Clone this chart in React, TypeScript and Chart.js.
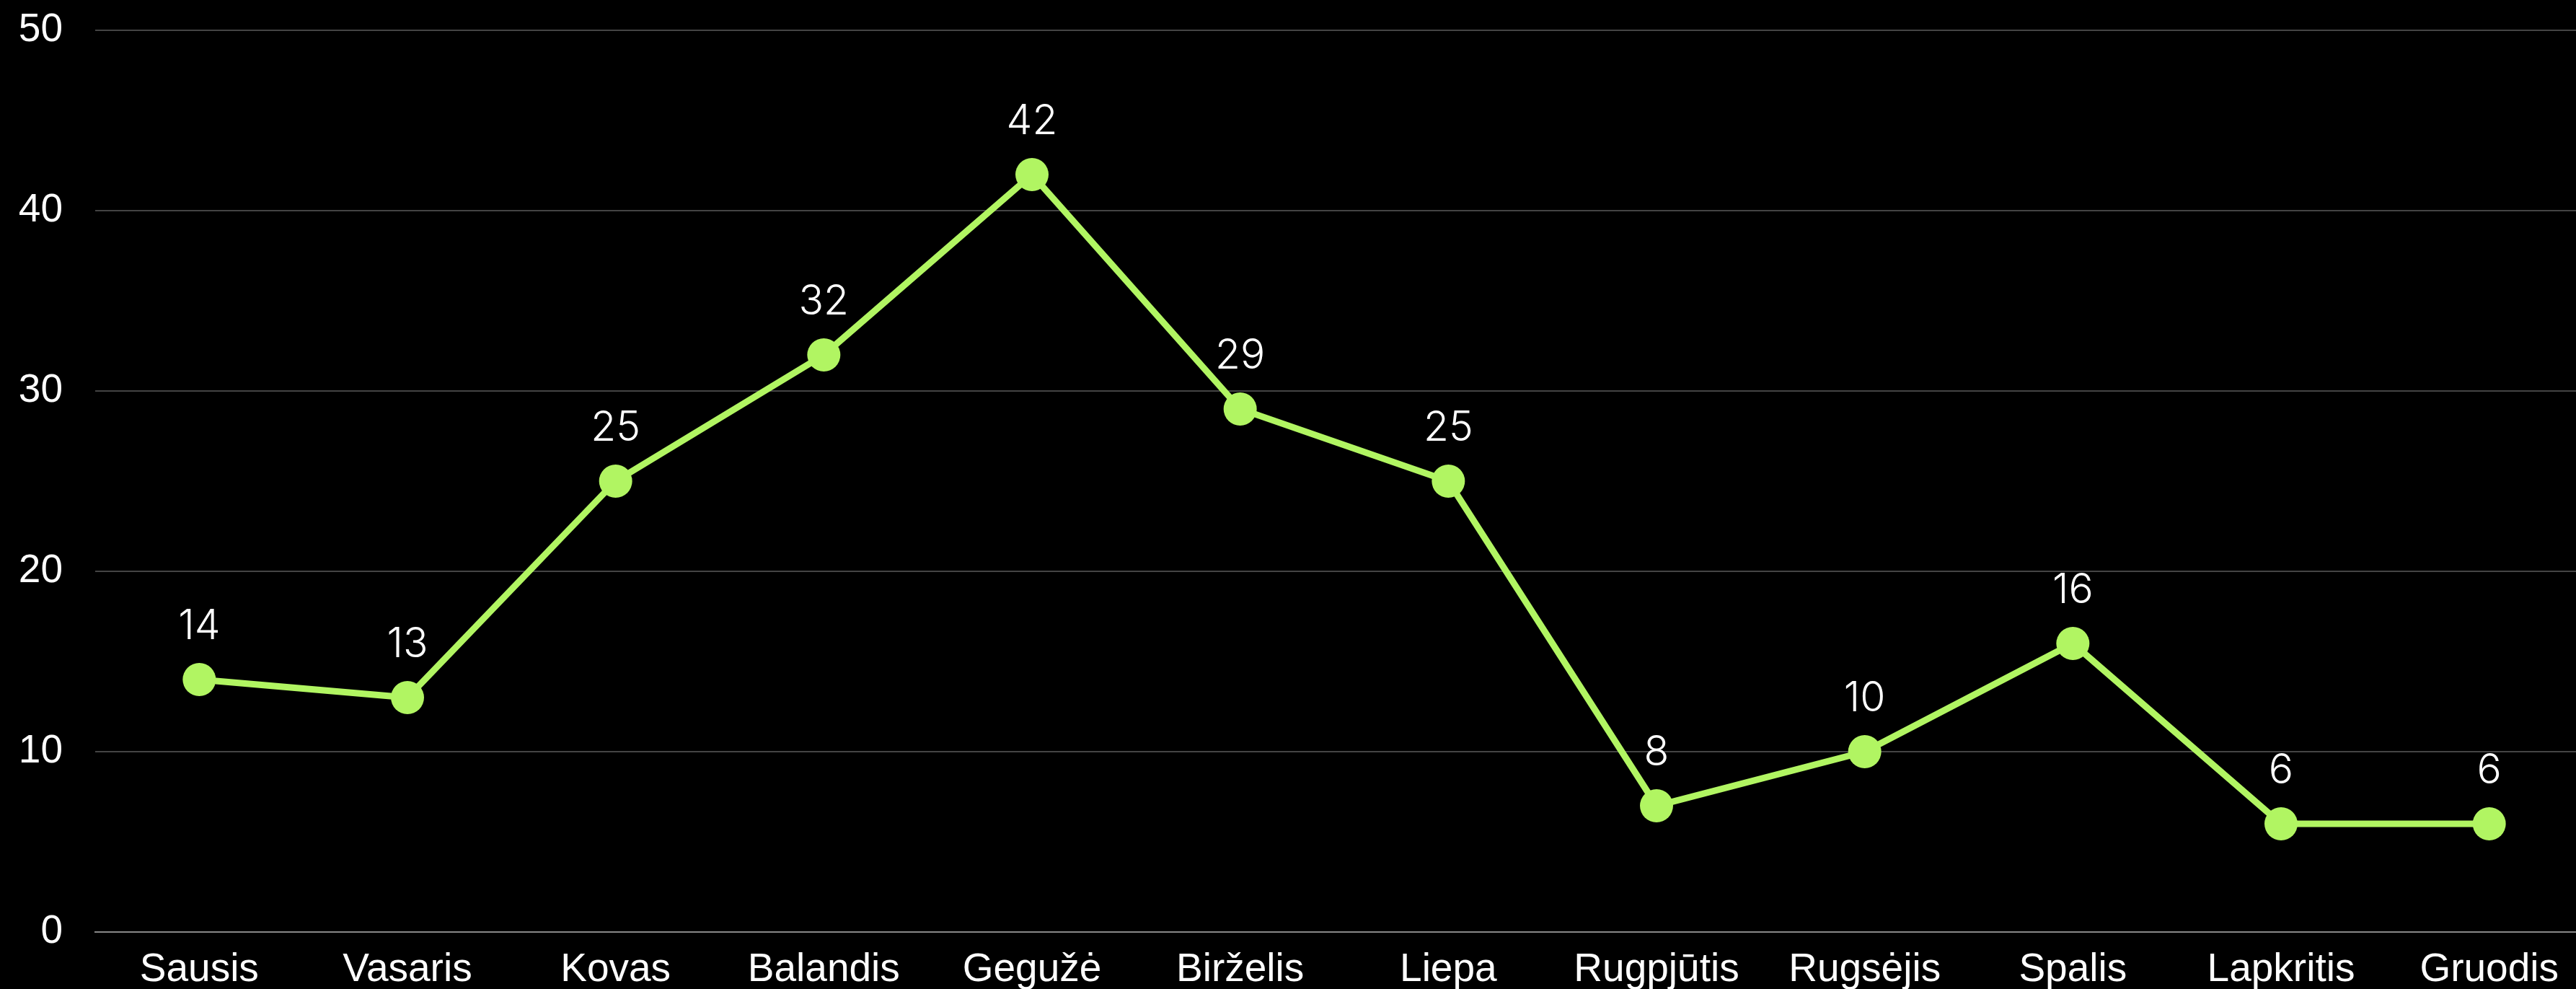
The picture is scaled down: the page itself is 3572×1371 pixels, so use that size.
import React, { useEffect, useRef } from "react";
import { Chart, registerables } from "chart.js";

Chart.register(...registerables);

const months = [
  "Sausis", "Vasaris", "Kovas", "Balandis", "Gegužė", "Birželis",
  "Liepa", "Rugpjūtis", "Rugsėjis", "Spalis", "Lapkritis", "Gruodis",
];
const values = [14, 13, 25, 32, 42, 29, 25, 7, 10, 16, 6, 6];
const valueLabels = ["14", "13", "25", "32", "42", "29", "25", "8", "10", "16", "6", "6"];
const yTicks = [0, 10, 20, 30, 40, 50];

const LINE = "#b1f562";
const W = 3619;
const H = 1371;

const pointLabelsPlugin = {
  id: "pointLabels",
  afterDatasetsDraw(chart: any) {
    const meta = chart.getDatasetMeta(0);
    const ctx = chart.ctx;
    ctx.save();
    ctx.fillStyle = "#ffffff";
    ctx.font = "300 57px Inter";
    ctx.textAlign = "center";
    ctx.textBaseline = "middle";
    meta.data.forEach((pt: any, i: number) => {
      ctx.fillText(valueLabels[i], pt.x, pt.y - 73);
    });
    ctx.restore();
  },
};

const bgPlugin = {
  id: "bg",
  beforeDraw(chart: any) {
    const ctx = chart.ctx;
    ctx.save();
    ctx.fillStyle = "#000000";
    ctx.fillRect(0, 0, chart.width, chart.height);
    ctx.restore();
  },
};

export default function App() {
  const ref = useRef<HTMLCanvasElement | null>(null);
  useEffect(() => {
    document.body.style.margin = "0";
    document.body.style.overflow = "hidden";
    document.body.style.background = "#000";
    const chart = new Chart(ref.current as HTMLCanvasElement, {
      type: "line",
      data: {
        labels: months,
        datasets: [
          {
            data: values,
            borderColor: LINE,
            backgroundColor: LINE,
            borderWidth: 9,
            pointRadius: 23,
            pointBorderWidth: 0,
            pointBackgroundColor: LINE,
            tension: 0,
          },
        ],
      },
      options: {
        animation: false,
        responsive: false,
        maintainAspectRatio: false,
        devicePixelRatio: 1,
        layout: { padding: { left: 0, right: 5, top: 42, bottom: 0 } },
        plugins: { legend: { display: false }, tooltip: { enabled: false } },
        scales: {
          x: {
            offset: true,
            grid: { display: false },
            border: { display: true, color: "#888888", width: 2 },
            afterFit(scale: any) {
              scale.height = H - 1292;
              scale.paddingLeft = 0;
              scale.paddingRight = 0;
            },
            ticks: {
              color: "#ffffff",
              font: { family: "Liberation Sans", size: 55 },
              padding: 12,
              maxRotation: 0,
              autoSkip: false,
            },
          },
          y: {
            min: 0,
            max: 50,
            afterBuildTicks(scale: any) {
              scale.ticks = yTicks.map((v) => ({ value: v }));
            },
            afterFit(scale: any) {
              scale.width = 132;
              scale.paddingTop = 0;
              scale.paddingBottom = 0;
            },
            grid: { color: "#444444", lineWidth: 2, drawTicks: false },
            border: { display: false },
            ticks: {
              color: "#ffffff",
              font: { family: "Liberation Sans", size: 55 },
              padding: 45,
            },
          },
        },
      },
      plugins: [bgPlugin, pointLabelsPlugin],
    });
    return () => chart.destroy();
  }, []);
  return (
    <div style={{ position: "fixed", left: 0, top: 0, width: W, height: H, background: "#000" }}>
      <canvas ref={ref} width={W} height={H} style={{ width: W, height: H, display: "block" }} />
    </div>
  );
}
